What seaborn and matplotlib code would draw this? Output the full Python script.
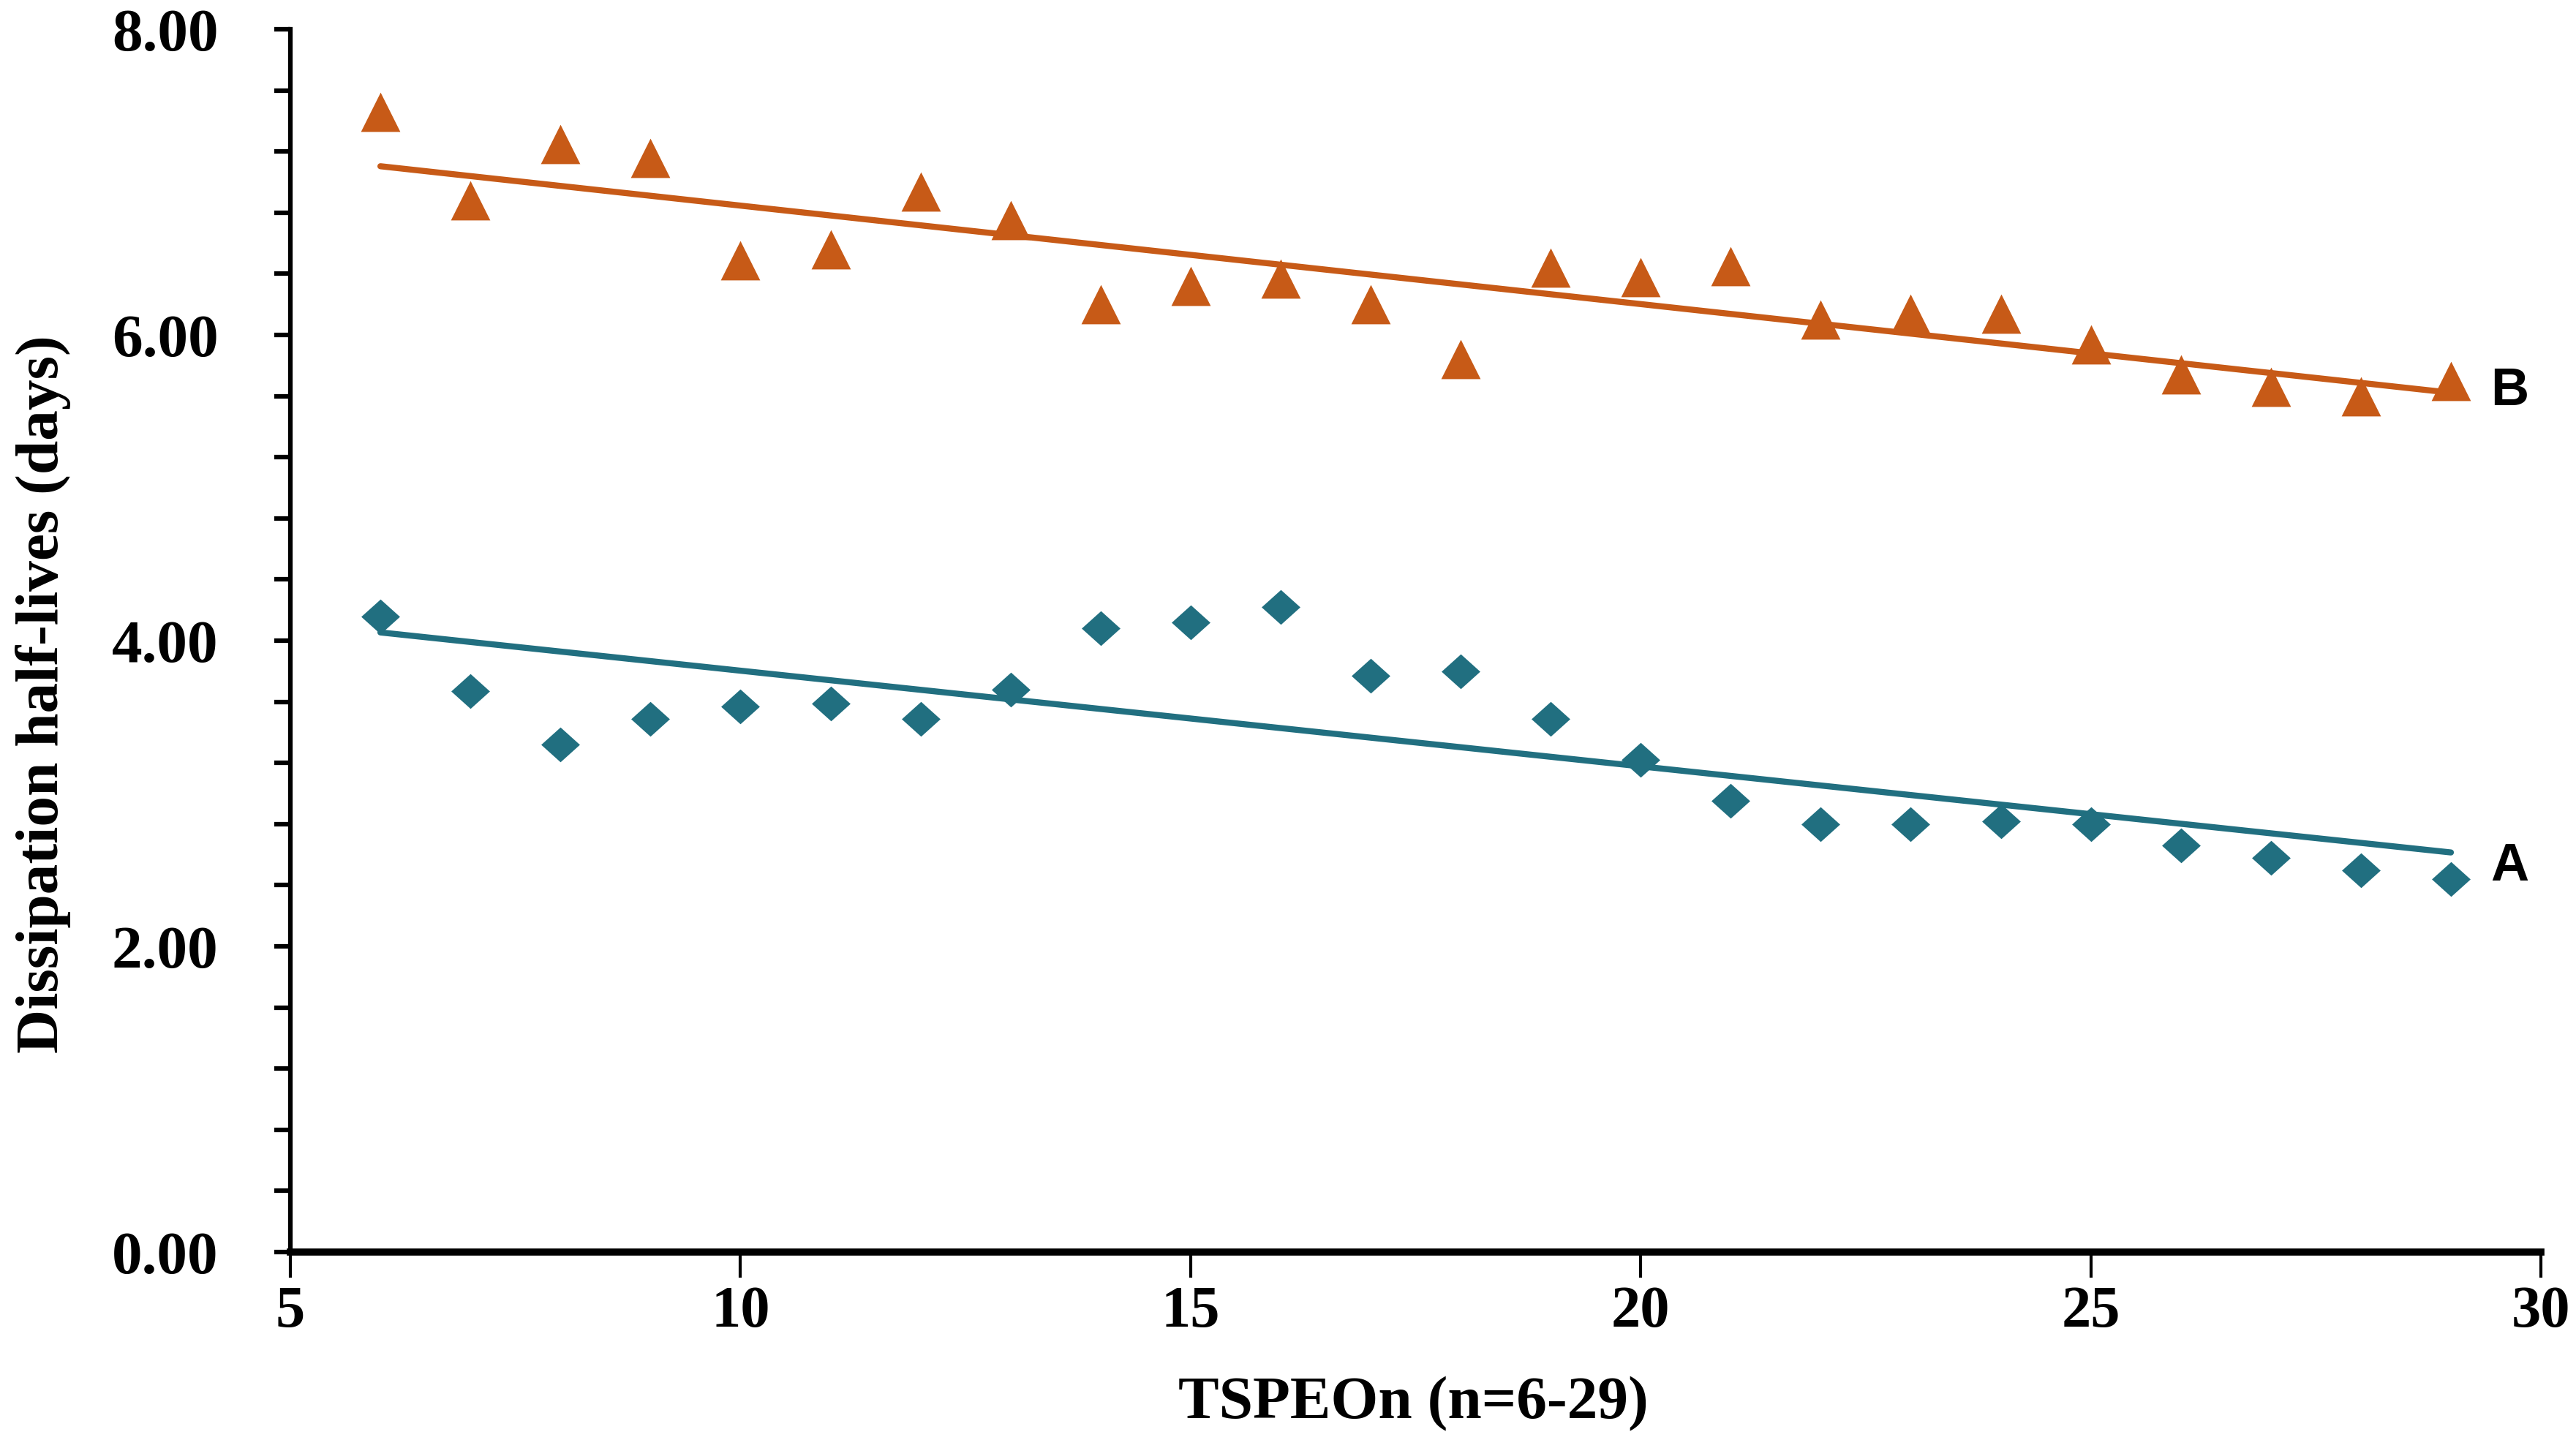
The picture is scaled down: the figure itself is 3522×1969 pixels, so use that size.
import numpy as np
import matplotlib
matplotlib.use("Agg")
import matplotlib.pyplot as plt
import seaborn as sns
from matplotlib.ticker import MultipleLocator, FormatStrFormatter

# TSPEOn chain length n
n_units = [6, 7, 8, 9, 10, 11, 12, 13, 14, 15, 16, 17, 18,
           19, 20, 21, 22, 23, 24, 25, 26, 27, 28, 29]
# series A (teal diamonds)
half_life_a = [4.16, 3.67, 3.32, 3.49, 3.57, 3.59, 3.49, 3.68, 4.08, 4.12, 4.22, 3.77,
               3.80, 3.49, 3.22, 2.95, 2.80, 2.80, 2.82, 2.80, 2.66, 2.58, 2.50, 2.44]
# series B (orange triangles)
half_life_b = [7.46, 6.88, 7.25, 7.16, 6.49, 6.56, 6.94, 6.75, 6.20, 6.32, 6.37, 6.20,
               5.84, 6.44, 6.38, 6.45, 6.10, 6.14, 6.14, 5.94, 5.74, 5.66, 5.60, 5.70]
series_names = ["A", "B"]

TEAL = "#216f80"
ORANGE = "#c75a17"

sns.set_style("white")
plt.rcParams["font.family"] = ["Liberation Serif", "DejaVu Serif"]
plt.rcParams["font.weight"] = "bold"
plt.rcParams["text.color"] = "black"
plt.rcParams["axes.labelcolor"] = "black"
plt.rcParams["xtick.color"] = "black"
plt.rcParams["ytick.color"] = "black"

fig = plt.figure(figsize=(35.23, 19.69), dpi=100)
ax = fig.add_axes([0.1127, 0.1305, 0.8734, 0.8492])

flat_diamond = [(0, 0.9), (1, 0), (0, -0.9), (-1, 0), (0, 0.9)]

sns.regplot(x=n_units, y=half_life_b, ax=ax, ci=None, marker="^", color=ORANGE,
            scatter_kws={"s": 1500, "linewidths": 0, "alpha": 1},
            line_kws={"lw": 6})
sns.regplot(x=n_units, y=half_life_a, ax=ax, ci=None, marker=flat_diamond, color=TEAL,
            scatter_kws={"s": 1450, "linewidths": 0, "alpha": 1},
            line_kws={"lw": 6})

ax.set_xlim(5, 30)
ax.set_ylim(0, 8)
ax.xaxis.set_major_locator(MultipleLocator(5))
ax.yaxis.set_major_locator(MultipleLocator(2))
ax.yaxis.set_minor_locator(MultipleLocator(0.4))
ax.yaxis.set_major_formatter(FormatStrFormatter("%.2f"))

for side in ["top", "right"]:
    ax.spines[side].set_visible(False)
ax.spines["left"].set_linewidth(4.5)
ax.spines["bottom"].set_linewidth(7)
ax.spines["left"].set_color("black")
ax.spines["bottom"].set_color("black")

ax.tick_params(axis="y", which="both", direction="out", left=True, length=16,
               width=4.5, color="black", labelcolor="black", labelsize=60, pad=55)
ax.tick_params(axis="x", which="both", direction="out", bottom=True, length=25,
               width=3, color="black", labelcolor="black", labelsize=58, pad=8)

ax.set_xlabel("TSPEOn (n=6-29)", fontsize=60, fontweight="bold", color="black")
ax.set_ylabel("Dissipation half-lives (days)", fontsize=60, fontweight="bold",
              color="black")
ax.xaxis.set_label_coords(0.499, -0.124)
ax.yaxis.set_label_coords(-0.110, 0.456)
ax.xaxis.label.set_va("center")
ax.yaxis.label.set_va("center")

for name, y in zip(series_names, [2.52, 5.63]):
    ax.text(29.65, y, name, ha="center", va="center", fontsize=52,
            fontweight="bold", color="black",
            family=["Liberation Sans", "DejaVu Sans"], clip_on=False)

fig.savefig("out.png", dpi=100)
plt.close(fig)
